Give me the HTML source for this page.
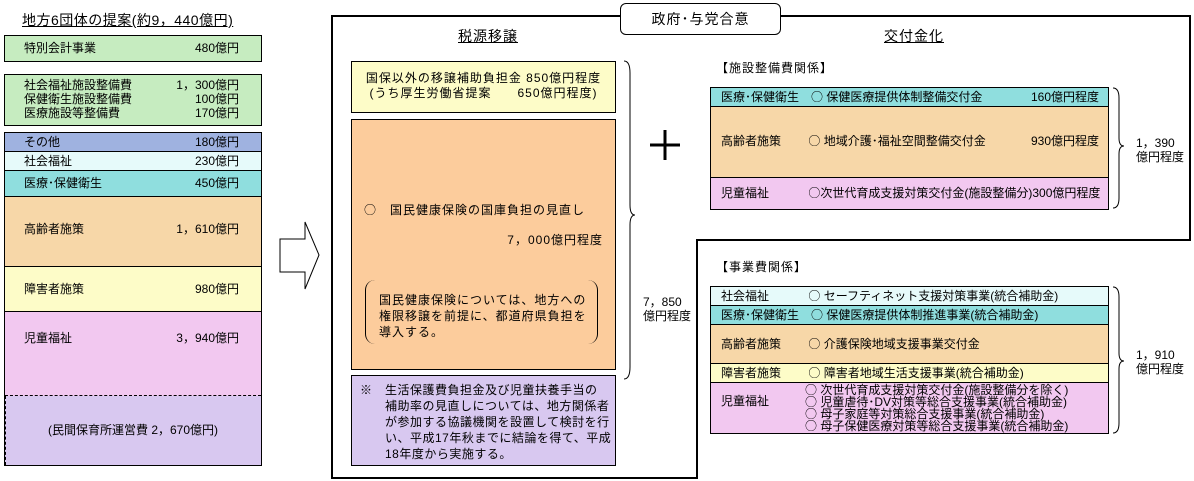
<!DOCTYPE html>
<html><head><meta charset="utf-8"><style>
*{margin:0;padding:0;box-sizing:border-box}
body{width:1194px;height:481px;background:#fff;position:relative;overflow:hidden;font-family:"Liberation Sans","Noto Sans CJK JP",sans-serif;font-size:12px;color:#000}
.a{position:absolute}
.bx{position:absolute;border:1px solid #000}
.r{position:absolute;left:0;right:0;border-bottom:1px solid #000}
.t{position:absolute;white-space:nowrap;line-height:14px}
.c{font-family:"Noto Sans CJK JP",sans-serif}
.ls{letter-spacing:1px}
.g{background:#c6ecc0}.bl{background:#9fb2e0}.lc{background:#e6fafa}.cy{background:#8fdede}
.or{background:#f7d7a8}.ye{background:#fdfcc8}.pk{background:#f2c8f0}.pu{background:#d8c8f0}
.orb{background:#fccc9c}
</style></head><body>
<!-- Left column -->
<div class="t" style="left:22px;top:13px;font-size:14px;text-decoration:underline;letter-spacing:0.5px">地方6団体の提案(約9，440億円)</div>
<div class="bx g" style="left:4px;top:35px;width:258px;height:27px"><div class="t" style="left:19px;top:5px">特別会計事業</div><div class="t" style="right:22px;top:5px">480億円</div></div>
<div class="bx g" style="left:4px;top:74px;width:258px;height:52px">
<div class="t" style="left:19px;top:3px">社会福祉施設整備費<br>保健衛生施設整備費<br>医療施設等整備費</div>
<div class="t" style="right:22px;top:3px;text-align:right">1，300億円<br>100億円<br>170億円</div></div>
<div class="bx" style="left:4px;top:132px;width:258px;height:334px">
<div class="r bl" style="top:0;height:19px"><div class="t" style="left:19px;top:2px">その他</div><div class="t" style="right:22px;top:2px">180億円</div></div>
<div class="r lc" style="top:19px;height:19px"><div class="t" style="left:19px;top:2px">社会福祉</div><div class="t" style="right:22px;top:2px">230億円</div></div>
<div class="r cy" style="top:38px;height:26px"><div class="t" style="left:19px;top:5px">医療･保健衛生</div><div class="t" style="right:22px;top:5px">450億円</div></div>
<div class="r or" style="top:64px;height:70px"><div class="t" style="left:19px;top:25px">高齢者施策</div><div class="t" style="right:22px;top:25px">1，610億円</div></div>
<div class="r ye" style="top:134px;height:45px"><div class="t" style="left:19px;top:15px">障害者施策</div><div class="t" style="right:22px;top:15px">980億円</div></div>
<div class="r pk" style="top:179px;height:84px;border-bottom:1px dashed #000"><div class="t" style="left:19px;top:19px">児童福祉</div><div class="t" style="right:22px;top:19px">3，940億円</div></div>
<div class="pu" style="position:absolute;left:0;right:0;top:263px;bottom:0;border-left:1px dashed #000"><div class="t" style="left:42px;top:27px">(民間保育所運営費 2，670億円)</div></div>
</div>
<!-- arrow -->
<svg class="a" style="left:278px;top:220px" width="44" height="72"><polygon points="2,19 27,19 27,2 41,35 27,69 27,52 2,52" fill="#fff" stroke="#000" stroke-width="1"/></svg>
<!-- frame -->
<svg class="a" style="left:0;top:0" width="1194" height="481">
<polyline points="620,16 332,16 332,478 697,478 697,240 1190,240 1190,16 781,16" fill="none" stroke="#000" stroke-width="2"/>
<path d="M624,61 q6,0 6,12 v132 q0,10 5,10 q-5,0 -5,10 v142 q0,12 -6,12" fill="none" stroke="#000"/>
<path d="M1113,88 q6,0 6,10 v40 q0,8 5,8 q-5,0 -5,8 v44 q0,10 -6,10" fill="none" stroke="#000"/>
<path d="M1113,287 q6,0 6,10 v56 q0,8 5,8 q-5,0 -5,8 v54 q0,10 -6,10" fill="none" stroke="#000"/>
<path d="M650,145 h30 M665,130 v30" stroke="#000" stroke-width="3"/>
</svg>
<div class="bx" style="left:620px;top:3px;width:161px;height:32px;border-radius:6px;background:#fff"><div class="t" style="left:0;right:0;text-align:center;top:8px;font-size:14px;letter-spacing:1px">政府･与党合意</div></div>
<div class="t" style="left:458px;top:29px;font-size:14px;text-decoration:underline;letter-spacing:1px">税源移譲</div>
<div class="t" style="left:884px;top:29px;font-size:14px;text-decoration:underline;letter-spacing:1px">交付金化</div>
<div class="bx ye" style="left:351px;top:61px;width:265px;height:52px"><div class="t ls" style="left:0;right:0;text-align:center;top:9px;line-height:15px">国保以外の移譲補助負担金 850億円程度<br>(うち厚生労働省提案　　650億円程度)</div></div>
<div class="bx orb" style="left:351px;top:119px;width:265px;height:251px">
<div class="t ls" style="left:12px;top:83px"><span class="c">○</span>　国民健康保険の国庫負担の見直し</div>
<div class="t ls" style="right:12px;top:113px">7，000億円程度</div>
<div class="a" style="left:13px;top:160px;width:233px;height:64px;border-left:1px solid #000;border-right:1px solid #000;border-radius:10px"></div>
<div class="t ls" style="left:27px;top:172px;line-height:16px">国民健康保険については、地方への<br>権限移譲を前提に、都道府県負担を<br>導入する。</div>
</div>
<div class="bx pu" style="left:351px;top:375px;width:265px;height:91px"><div class="t" style="left:8px;top:6px;line-height:16px;letter-spacing:0.5px">※　生活保護費負担金及び児童扶養手当の<br>　　補助率の見直しについては、地方関係者<br>　　が参加する協議機関を設置して検討を行<br>　　い、平成17年秋までに結論を得て、平成<br>　　18年度から実施する。</div></div>
<div class="t" style="left:643px;top:295px">7，850<br>億円程度</div>
<!-- table1 -->
<div class="t ls" style="left:716px;top:61px">【施設整備費関係】</div>
<div class="bx" style="left:710px;top:87px;width:399px;height:123px">
<div class="r cy" style="top:0;height:19px"><div class="t" style="left:10px;top:2px">医療･保健衛生　<span class="c">○</span> 保健医療提供体制整備交付金</div><div class="t" style="right:9px;top:2px">160億円程度</div></div>
<div class="r or" style="top:19px;height:71px"><div class="t" style="left:10px;top:27px">高齢者施策　　 <span class="c">○</span> 地域介護･福祉空間整備交付金</div><div class="t" style="right:9px;top:27px">930億円程度</div></div>
<div class="r pk" style="top:90px;height:31px;border:0"><div class="t" style="left:10px;top:8px">児童福祉　　　 <span class="c">○</span>次世代育成支援対策交付金(施設整備分)300億円程度</div></div>
</div>
<div class="t" style="left:1136px;top:136px">1，390<br>億円程度</div>
<!-- table2 -->
<div class="t ls" style="left:716px;top:260px">【事業費関係】</div>
<div class="bx" style="left:710px;top:286px;width:399px;height:148px">
<div class="r lc" style="top:0;height:19px"><div class="t" style="left:10px;top:2px">社会福祉　　　 <span class="c">○</span> セーフティネット支援対策事業(統合補助金)</div></div>
<div class="r cy" style="top:19px;height:19px"><div class="t" style="left:10px;top:2px">医療･保健衛生　<span class="c">○</span> 保健医療提供体制推進事業(統合補助金)</div></div>
<div class="r or" style="top:38px;height:39px"><div class="t" style="left:10px;top:12px">高齢者施策　　 <span class="c">○</span> 介護保険地域支援事業交付金</div></div>
<div class="r ye" style="top:77px;height:19px"><div class="t" style="left:10px;top:2px">障害者施策　　 <span class="c">○</span> 障害者地域生活支援事業(統合補助金)</div></div>
<div class="r pk" style="top:96px;height:50px;border:0"><div class="t" style="left:10px;top:11px">児童福祉</div>
<div class="t" style="left:94px;top:1px;line-height:11px;font-size:12px"><span class="c">○</span> 次世代育成支援対策交付金(施設整備分を除く)<br><span class="c">○</span> 児童虐待･DV対策等総合支援事業(統合補助金)<br><span class="c">○</span> 母子家庭等対策総合支援事業(統合補助金)<br><span class="c">○</span> 母子保健医療対策等総合支援事業(統合補助金)</div></div>
</div>
<div class="t" style="left:1136px;top:348px">1，910<br>億円程度</div>
</body></html>
